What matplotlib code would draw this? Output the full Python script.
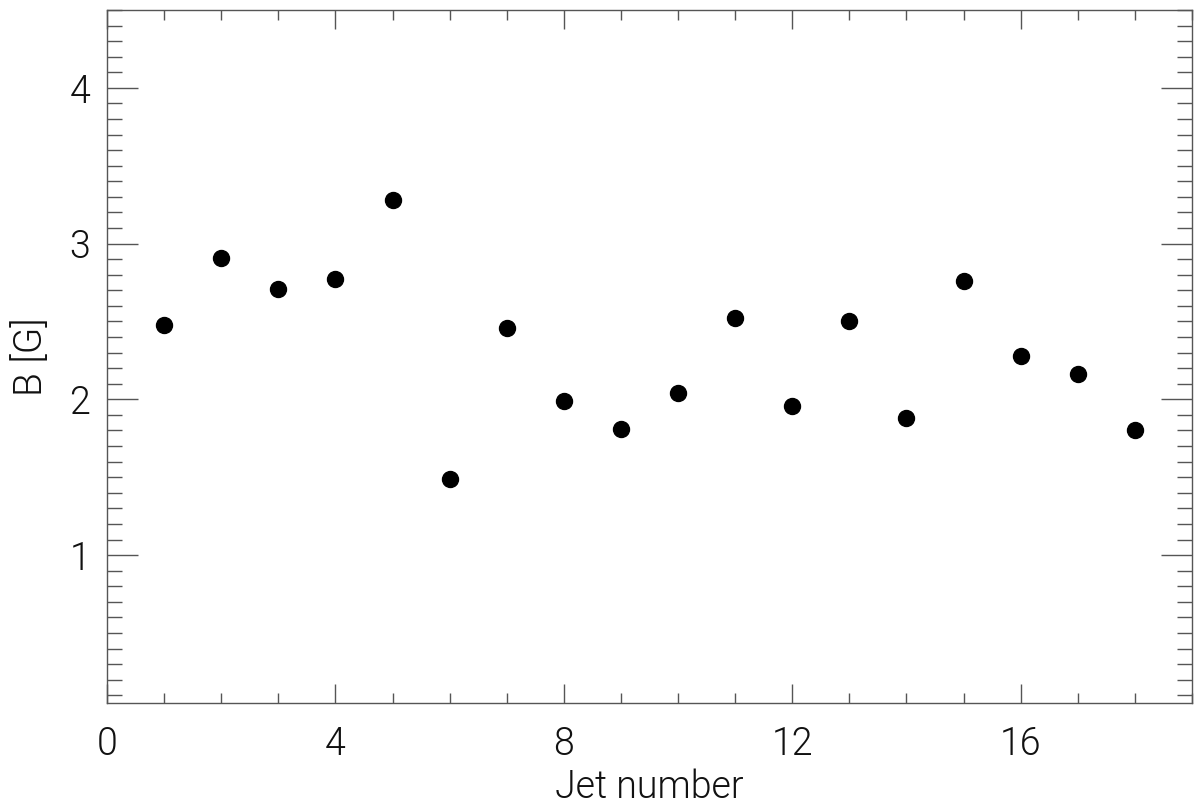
import matplotlib
matplotlib.use("Agg")
import matplotlib.pyplot as plt
from matplotlib.ticker import MultipleLocator

jet_number = [1, 2, 3, 4, 5, 6, 7, 8, 9, 10, 11, 12, 13, 14, 15, 16, 17, 18]
b_field = [2.48, 2.91, 2.71, 2.77, 3.28, 1.49, 2.46, 1.99, 1.81, 2.04,
           2.52, 1.96, 2.50, 1.88, 2.76, 2.28, 2.16, 1.80]

plt.rcParams['font.family'] = ['Roboto', 'DejaVu Sans']

fig = plt.figure(figsize=(12, 8.09), dpi=100)
ax = fig.add_axes([0.0892, 0.131, 0.9041, 0.8566])

ax.plot(jet_number, b_field, 'o', color='black', markersize=11.5, linestyle='none')

ax.set_xlim(0, 19)
ax.set_ylim(0.05, 4.5)
ax.xaxis.set_major_locator(MultipleLocator(4))
ax.xaxis.set_minor_locator(MultipleLocator(1))
ax.yaxis.set_major_locator(MultipleLocator(1))
ax.yaxis.set_minor_locator(MultipleLocator(0.1))

axcol = '#555555'
for s in ax.spines.values():
    s.set_color(axcol)
    s.set_linewidth(1.0)

ax.tick_params(which='both', direction='in', top=True, right=True, color=axcol,
               width=1.0, labelsize=27, labelcolor='#111111')
ax.tick_params(axis='x', which='major', length=14, pad=16)
ax.tick_params(axis='x', which='minor', length=7)
ax.tick_params(axis='y', which='major', length=22, pad=12)
ax.tick_params(axis='y', which='minor', length=11)
for lab in ax.get_xticklabels() + ax.get_yticklabels():
    lab.set_fontweight(300)

ax.set_xlabel('Jet number', fontsize=27, fontweight=300, color='#111111', labelpad=4)
ax.set_ylabel('B [G]', fontsize=28, fontweight=300, color='#111111', labelpad=14)

fig.savefig('out.png', dpi=100)
